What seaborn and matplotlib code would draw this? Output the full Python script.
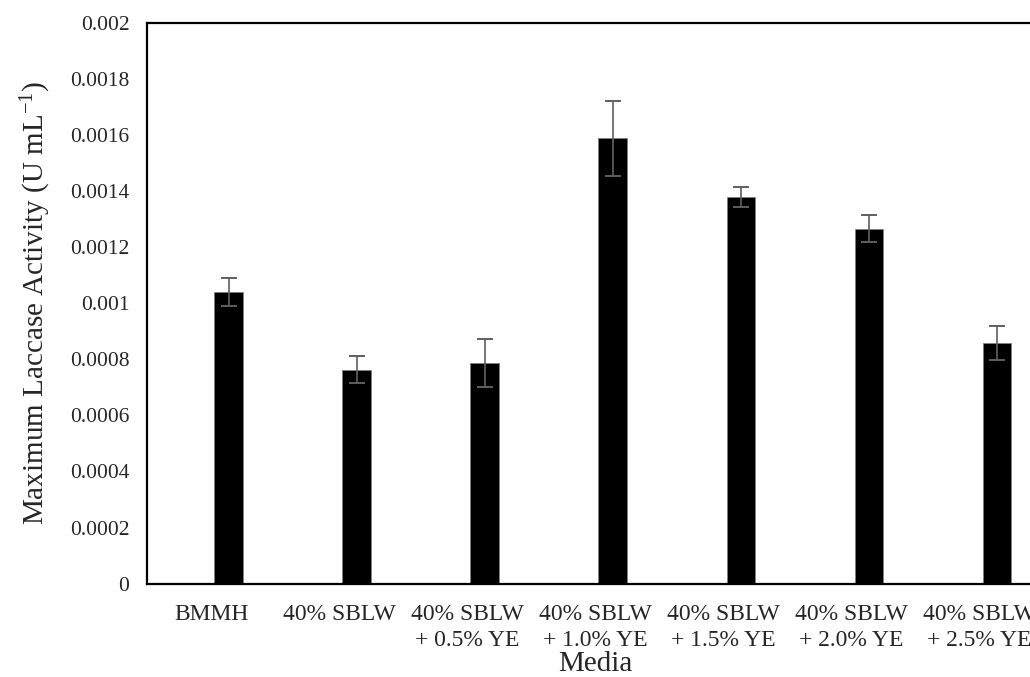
import matplotlib
matplotlib.use("Agg")
import matplotlib.pyplot as plt
import numpy as np
import pandas as pd
import seaborn as sns

# Donnees
media = ["BMMH", "40% SBLW", "40% SBLW\n+ 0.5% YE", "40% SBLW\n+ 1.0% YE",
         "40% SBLW\n+ 1.5% YE", "40% SBLW\n+ 2.0% YE", "40% SBLW\n+ 2.5% YE"]
activity = [0.00104, 0.000763, 0.000788, 0.001588, 0.001379, 0.001266, 0.000859]
activity_err = [0.000049, 0.000049, 0.000086, 0.000134, 0.000036, 0.000048, 0.000061]

df = pd.DataFrame({"Media": media, "Activity": activity, "Err": activity_err})

sns.set_style("white")
plt.rcParams["font.family"] = ["Liberation Serif", "DejaVu Serif"]
plt.rcParams["mathtext.fontset"] = "custom"
plt.rcParams["mathtext.rm"] = "Liberation Serif"
plt.rcParams["mathtext.it"] = "Liberation Serif:italic"

fig = plt.figure(figsize=(10.30, 6.77), dpi=100)
# axe un peu plus large que la figure (le bord droit est coupe dans l'original)
ax = fig.add_axes([0.1432, 0.138, 0.870, 0.828])

sns.barplot(data=df, x="Media", y="Activity", color="black", width=0.22,
            errorbar=None, edgecolor="#7f7f7f", linewidth=0.6, ax=ax)
ax.errorbar(np.arange(len(df)), df["Activity"], yerr=df["Err"], fmt="none",
            ecolor="#5f5f5f", elinewidth=1.2, capsize=6, capthick=1.4)

# etiquettes centrees sur la categorie, barres decalees vers la droite
offset = 0.133
n = len(df)
ax.set_xticks(np.arange(n) - offset)
ax.set_xticklabels(media, fontsize=17, linespacing=1.3)
ax.set_xlim(-0.5 - offset, n - 0.5 - offset)

ax.set_ylim(0, 0.002)
yt = np.arange(0, 0.00201, 0.0002)
ax.set_yticks(yt)
ax.set_yticklabels(["0"] + [f"{v:.4f}".rstrip("0") for v in yt[1:]], fontsize=15.5)

ax.tick_params(axis="y", direction="in", length=6, width=1.3, pad=13, color="black")
ax.tick_params(axis="x", length=0, pad=15)

for side in ["left", "bottom", "top", "right"]:
    ax.spines[side].set_visible(True)
    ax.spines[side].set_color("black")
    ax.spines[side].set_linewidth(1.6)

ax.set_xlabel("Media", fontsize=21, labelpad=0)
ax.set_ylabel("Maximum Laccase Activity (U mL$^{-1}$)", fontsize=21, labelpad=12)

fig.savefig("out.png", dpi=100)
plt.close(fig)
